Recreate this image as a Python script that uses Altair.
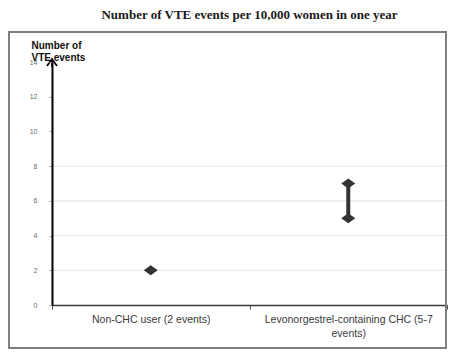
import altair as alt
import pandas as pd

# ---- data ----
categories = ["Non-CHC user (2 events)", "Levonorgestrel-containing CHC (5-7 events)"]
low_events = [2, 5]
high_events = [2, 7]
y_tick_values = [0, 2, 4, 6, 8, 10, 12, 14]
grid_values = [2, 4, 6, 8]
y_max = 14
chart_title = "Number of VTE events per 10,000 women in one year"

ranges = pd.DataFrame({"cat": categories, "low": low_events, "high": high_events})
rows = []
for c, lo, hi in zip(categories, low_events, high_events):
    rows.append({"cat": c, "v": lo})
    if hi != lo:
        rows.append({"cat": c, "v": hi})
points = pd.DataFrame(rows)
grid_df = pd.DataFrame({"v": grid_values})
arrow_df = pd.DataFrame({"v": [y_max]})
frame_df = pd.DataFrame({"k": [0]})
title_df = pd.DataFrame({"t": [chart_title]})

W, H = 395, 243
yscale = alt.Scale(domain=[0, y_max], nice=False)
xscale = alt.Scale(domain=categories, paddingInner=0, paddingOuter=0)

xaxis = alt.Axis(
    title=None,
    labelAngle=0,
    labelFont="Liberation Sans",
    labelFontSize=10.5,
    labelColor="#3a3a3a",
    labelLimit=400,
    labelPadding=5,
    labelLineHeight=14,
    labelExpr="length(datum.label) > 30 ? [slice(datum.label, 0, lastindexof(datum.label, ' ')), slice(datum.label, lastindexof(datum.label, ' ') + 1)] : datum.label",
    tickBand="extent",
    tickSize=4,
    tickColor="#555555",
    domainColor="#3a3a3a",
    domainWidth=1.5,
    grid=False,
)
yaxis = alt.Axis(
    values=y_tick_values,
    title=["Number of", "VTE events"],
    titleAngle=0,
    titleAlign="left",
    titleBaseline="bottom",
    titleX=-21,
    titleY=-12,
    titleFont="Liberation Sans",
    titleFontSize=10,
    titleFontWeight="bold",
    titleLineHeight=12,
    titleColor="#111111",
    labelFont="Liberation Sans",
    labelFontSize=7,
    labelColor="#6b6b6b",
    labelPadding=12,
    tickSize=3,
    tickColor="#999999",
    domainColor="#000000",
    domainWidth=2,
    grid=False,
    zindex=2,
)

diamond = "M -1 0 L 0 -0.72 L 1 0 L 0 0.72 Z"
arrow_path = "M -1 0.8 L 0 -0.6 L 1 0.8 M 0 -0.6 L 0 1"

grid = alt.Chart(grid_df).mark_rule(color="#e6e6e6", strokeWidth=1).encode(
    y=alt.Y("v:Q", scale=yscale, axis=yaxis)
)

frame = alt.Chart(frame_df).mark_rect(
    fillOpacity=0, stroke="#7f7f7f", strokeWidth=2
).encode(
    x=alt.value(-43), x2=alt.value(394), y=alt.value(-30), y2=alt.value(286)
)

title_mark = alt.Chart(title_df).mark_text(
    font="Liberation Serif", fontSize=13, fontWeight="bold", color="#1a1a1a",
    align="center", baseline="alphabetic"
).encode(
    text="t:N", x=alt.value(W / 2), y=alt.value(-43)
)

rng = alt.Chart(ranges).mark_rule(color="#333333", strokeWidth=4).encode(
    x=alt.X("cat:N", scale=xscale, sort=categories, axis=xaxis),
    y=alt.Y("low:Q", scale=yscale, axis=yaxis),
    y2="high:Q",
)

pts = alt.Chart(points).mark_point(
    shape=diamond, filled=True, color="#333333", opacity=1, size=196
).encode(
    x=alt.X("cat:N", scale=xscale, sort=categories, axis=xaxis),
    y=alt.Y("v:Q", scale=yscale, axis=yaxis),
)

arrow = alt.Chart(arrow_df).mark_point(
    shape=arrow_path, filled=False, color="#000000", strokeWidth=1.8, opacity=1, size=100
).encode(
    x=alt.value(0),
    y=alt.Y("v:Q", scale=yscale, axis=yaxis),
)

chart = (
    alt.layer(grid, frame, title_mark, rng, pts, arrow)
    .properties(
        width=W,
        height=H,
        background="white",
        autosize=alt.AutoSizeParams(type="none"),
        padding={"left": 44, "top": 54, "right": 1, "bottom": 45},
    )
    .configure_view(strokeWidth=0, stroke="transparent")
)

chart.save("out.html", embed_options={"renderer": "svg", "actions": False})
